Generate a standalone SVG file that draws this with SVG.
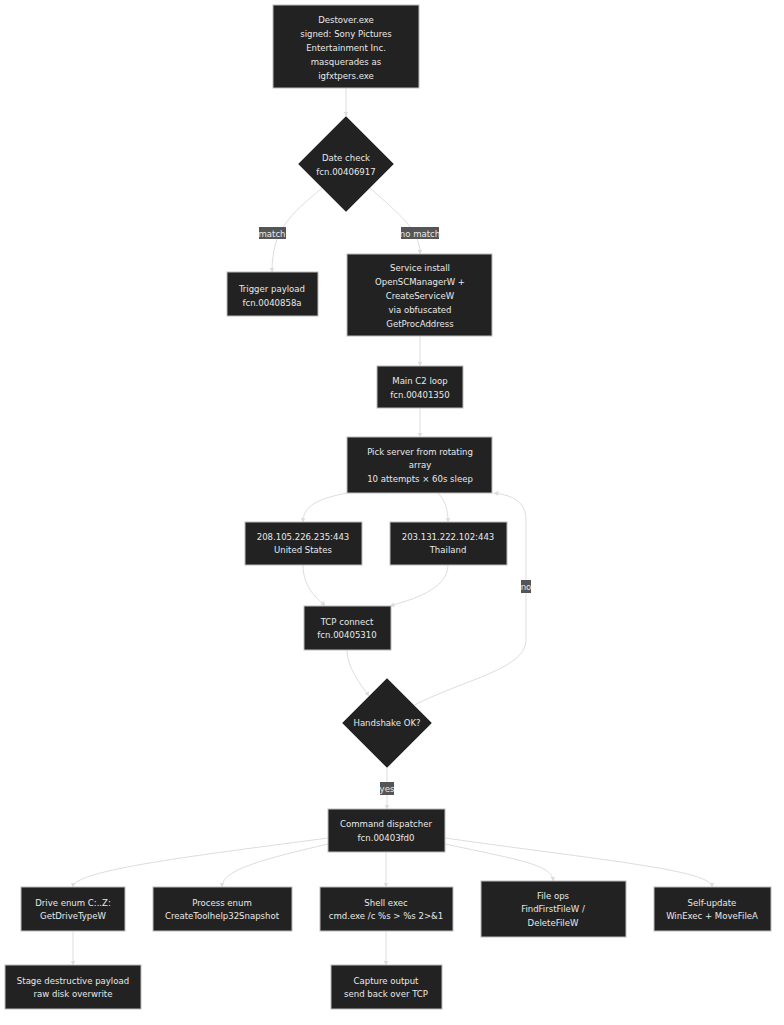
<svg xmlns="http://www.w3.org/2000/svg" width="784" height="1025" viewBox="0 0 784 1025">
<style>
text{font-family:"DejaVu Sans Condensed","DejaVu Sans",sans-serif;font-size:9.5px;fill:#e8e8e8;text-anchor:middle}
.n{fill:#222222;stroke:#bbbbbb;stroke-width:1}
.e{fill:none;stroke:#dddddd;stroke-width:1;marker-end:url(#a)}
.lb{fill:#555555}
</style>
<defs><marker id="a" viewBox="0 0 10 10" refX="9" refY="5" markerWidth="5" markerHeight="5" orient="auto"><path d="M0,0L10,5L0,10z" fill="#dddddd"/></marker></defs>
<rect width="784" height="1025" fill="#ffffff"/>
<g id="edges">
<path class="e" d="M346,88V116"/>
<path class="e" d="M322,188C290,215 272,230 272,272"/>
<path class="e" d="M370,188C400,215 420,230 420,254"/>
<path class="e" d="M420,336V366"/>
<path class="e" d="M420,408V437"/>
<path class="e" d="M347,493C310,500 303,510 303,522"/>
<path class="e" d="M438,493C445,500 448,510 448,522"/>
<path class="e" d="M303,565C303,590 320,600 325,606"/>
<path class="e" d="M448,565C448,590 410,600 390,606"/>
<path class="e" d="M347,650C347,670 365,690 369,696"/>
<path class="e" d="M409,708C460,680 526,670 526,640V520C526,500 510,495 494,493"/>
<path class="e" d="M387,768V809"/>
<path class="e" d="M328,838C200,855 73,870 73,887"/>
<path class="e" d="M328,844C260,860 222,870 222,887"/>
<path class="e" d="M386,852V887"/>
<path class="e" d="M445,844C520,860 553,865 553,881"/>
<path class="e" d="M445,838C600,860 712,870 712,887"/>
<path class="e" d="M73,931V965"/>
<path class="e" d="M386,931V965"/>
</g>
<g id="labels">
<rect class="lb" x="259" y="227" width="27" height="12"/><text x="272" y="236.5">match</text>
<rect class="lb" x="401" y="227" width="38" height="12"/><text x="420" y="236.5">no match</text>
<rect class="lb" x="521" y="580" width="10" height="13"/><text x="526" y="590">no</text>
<rect class="lb" x="380" y="782" width="14" height="13"/><text x="387" y="792">yes</text>
</g>
<g id="n1"><rect class="n" x="273" y="5" width="146" height="83"/><text x="346" y="23">Destover.exe</text><text x="346" y="37">signed: Sony Pictures</text><text x="346" y="51">Entertainment Inc.</text><text x="346" y="65">masquerades as</text><text x="346" y="79">igfxtpers.exe</text></g>
<g id="n2"><path class="n" d="M346,116L394,164L346,212L298,164z"/><text x="346" y="161">Date check</text><text x="346" y="175">fcn.00406917</text></g>
<g id="n3"><rect class="n" x="227" y="272" width="91" height="44"/><text x="272" y="292">Trigger payload</text><text x="272" y="306">fcn.0040858a</text></g>
<g id="n4"><rect class="n" x="347" y="254" width="145" height="82"/><text x="420" y="271">Service install</text><text x="420" y="285">OpenSCManagerW +</text><text x="420" y="299">CreateServiceW</text><text x="420" y="313">via obfuscated</text><text x="420" y="327">GetProcAddress</text></g>
<g id="n5"><rect class="n" x="377" y="366" width="86" height="42"/><text x="420" y="384">Main C2 loop</text><text x="420" y="398">fcn.00401350</text></g>
<g id="n6"><rect class="n" x="347" y="437" width="145" height="56"/><text x="420" y="455">Pick server from rotating</text><text x="420" y="468">array</text><text x="420" y="482">10 attempts × 60s sleep</text></g>
<g id="n7"><rect class="n" x="245" y="522" width="117" height="43"/><text x="303" y="540">208.105.226.235:443</text><text x="303" y="553">United States</text></g>
<g id="n8"><rect class="n" x="390" y="522" width="117" height="43"/><text x="448" y="540">203.131.222.102:443</text><text x="448" y="553">Thailand</text></g>
<g id="n9"><rect class="n" x="304" y="606" width="87" height="44"/><text x="347" y="625">TCP connect</text><text x="347" y="638">fcn.00405310</text></g>
<g id="n10"><path class="n" d="M387,678L432,723L387,768L342,723z"/><text x="387" y="726">Handshake OK?</text></g>
<g id="n11"><rect class="n" x="328" y="809" width="117" height="43"/><text x="386" y="827">Command dispatcher</text><text x="386" y="841">fcn.00403fd0</text></g>
<g id="n12"><rect class="n" x="21" y="887" width="104" height="44"/><text x="73" y="906">Drive enum C:..Z:</text><text x="73" y="919">GetDriveTypeW</text></g>
<g id="n13"><rect class="n" x="153" y="887" width="139" height="44"/><text x="222" y="906">Process enum</text><text x="222" y="919">CreateToolhelp32Snapshot</text></g>
<g id="n14"><rect class="n" x="320" y="887" width="133" height="44"/><text x="386" y="906">Shell exec</text><text x="386" y="919">cmd.exe /c %s &gt; %s 2&gt;&amp;1</text></g>
<g id="n15"><rect class="n" x="481" y="881" width="145" height="56"/><text x="553" y="899">File ops</text><text x="553" y="912">FindFirstFileW /</text><text x="553" y="926">DeleteFileW</text></g>
<g id="n16"><rect class="n" x="654" y="887" width="117" height="44"/><text x="712" y="906">Self-update</text><text x="712" y="919">WinExec + MoveFileA</text></g>
<g id="n17"><rect class="n" x="5" y="965" width="136" height="44"/><text x="73" y="984">Stage destructive payload</text><text x="73" y="997">raw disk overwrite</text></g>
<g id="n18"><rect class="n" x="331" y="965" width="111" height="44"/><text x="386" y="984">Capture output</text><text x="386" y="997">send back over TCP</text></g>
</svg>
